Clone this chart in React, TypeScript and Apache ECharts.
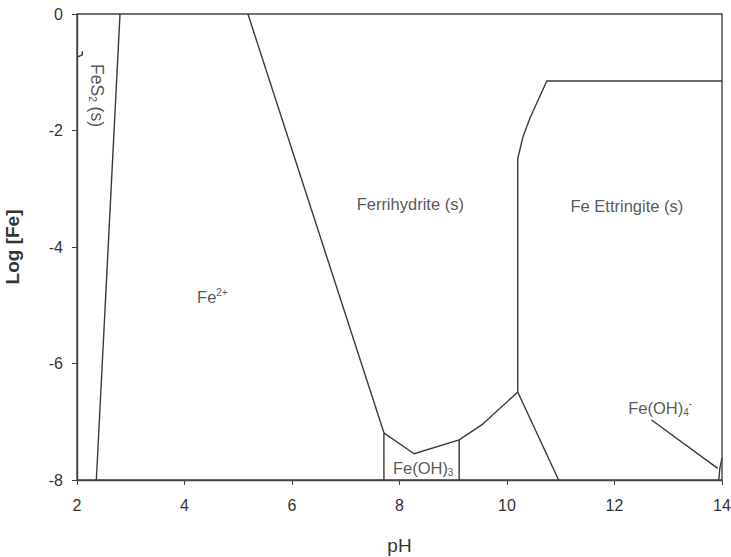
import React, { useEffect, useRef } from "react";
import * as echarts from "echarts";

const xTicks = [2, 4, 6, 8, 10, 12, 14];
const yTicks = [-8, -6, -4, -2, 0];

// Boundary lines [pH, log Fe]
const fes2Boundary = [[2.8, 0], [2.36, -8]];
const fes2Tick = [[2.0, -0.74], [2.1, -0.7], [2.1, -0.64]];
const fe2Boundary = [[5.18, 0], [7.71, -7.19]];
const feoh3Top = [[7.71, -7.19], [8.27, -7.55], [9.11, -7.31], [9.55, -7.04], [10.2, -6.49]];
const feoh3Left = [[7.71, -7.19], [7.71, -8]];
const feoh3Right = [[9.11, -7.31], [9.11, -8]];
const lowerRight = [[10.2, -6.49], [10.96, -8]];
const ettringite = [[10.2, -6.49], [10.2, -2.48], [10.3, -2.1], [10.43, -1.78], [10.74, -1.15], [14, -1.15]];
const feoh4Leader = [[12.69, -6.97], [13.92, -7.8]];
const feoh4Edge = [[13.94, -8], [13.96, -7.8], [14, -7.62]];

const lines = [fes2Boundary, fes2Tick, fe2Boundary, feoh3Top, feoh3Left, feoh3Right, lowerRight, ettringite, feoh4Leader, feoh4Edge];

// Region labels [pH, log Fe, text, rotate]
const regionLabels: [number, number, string, number][] = [
  [2.38, -1.4, "FeS{sub|2} (s)", -90],
  [4.52, -4.86, "Fe{sup|2+}", 0],
  [8.2, -3.26, "Ferrihydrite (s)", 0],
  [12.23, -3.3, "Fe Ettringite (s)", 0],
  [8.44, -7.8, "Fe(OH){sub|3}", 0],
  [12.85, -6.77, "Fe(OH){sub|4}{sup|-}", 0],
];

export default function App() {
  const ref = useRef<HTMLDivElement>(null);
  useEffect(() => {
    if (!ref.current) return;
    const chart = echarts.init(ref.current, undefined, { renderer: "svg" });
    const lineColor = "#3a3a3a";
    const font = "Liberation Sans, Arial, sans-serif";
    const txt = "#2a2a2a";
    const series: any[] = lines.map((d) => ({
      type: "line",
      data: d,
      symbol: "none",
      lineStyle: { color: lineColor, width: 1.4 },
      silent: true,
    }));
    series.push({
      type: "scatter",
      symbolSize: 0,
      data: regionLabels.map((l) => ({
        value: [l[0], l[1]],
        label: {
          show: true,
          position: "inside",
          formatter: l[2],
          rotate: l[3],
          color: txt,
          fontSize: l[3] ? 17.5 : 16.5,
          fontFamily: font,
          rich: {
            sub: { fontSize: 10, padding: [9, 0, 0, 0], color: txt, fontFamily: font },
            sup: { fontSize: 10, padding: [0, 0, 9, 0], color: txt, fontFamily: font },
          },
        },
      })),
      silent: true,
    });
    chart.setOption({
      animation: false,
      backgroundColor: "#ffffff",
      grid: {
        left: 77,
        right: 9,
        top: 14,
        bottom: 77,
        containLabel: false,
        outerBoundsMode: "none",
        show: true,
        borderColor: "#444",
        borderWidth: 1.4,
        backgroundColor: "transparent",
      },
      xAxis: {
        type: "value",
        min: 2,
        max: 14,
        interval: 2,
        name: "pH",
        nameLocation: "middle",
        nameGap: 56,
        nameTextStyle: { fontSize: 19, fontFamily: font, color: "#333" },
        axisLine: { show: true, onZero: false, lineStyle: { color: "#444", width: 1.4 } },
        axisTick: { show: true, length: 5, lineStyle: { color: "#444" } },
        axisLabel: { fontSize: 16, color: "#333", fontFamily: font, margin: 17 },
        splitLine: { show: false },
      },
      yAxis: {
        type: "value",
        min: -8,
        max: 0,
        interval: 2,
        name: "Log [Fe]",
        nameLocation: "middle",
        nameGap: 55,
        nameRotate: 90,
        nameTextStyle: { fontSize: 19, fontWeight: "bold", fontFamily: font, color: "#333" },
        axisLine: { show: true, onZero: false, lineStyle: { color: "#444", width: 1.4 } },
        axisTick: { show: true, length: 5, lineStyle: { color: "#444" } },
        axisLabel: { fontSize: 16, color: "#333", fontFamily: font, margin: 14 },
        splitLine: { show: false },
      },
      series,
    });
    return () => chart.dispose();
  }, []);
  return <div ref={ref} style={{ width: 731, height: 557, position: "absolute", left: 0, top: 0 }} />;
}
